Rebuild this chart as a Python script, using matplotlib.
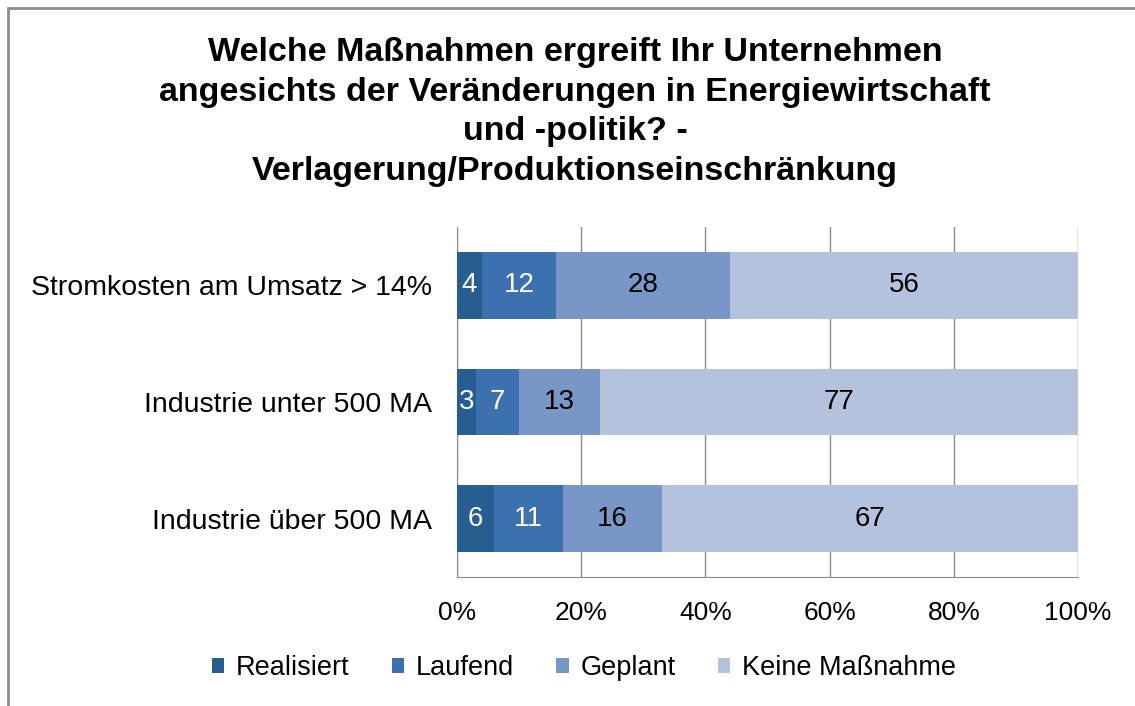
import matplotlib.pyplot as plt
from matplotlib.patches import Rectangle
from matplotlib.ticker import PercentFormatter

plt.rcParams['font.family'] = ['Liberation Sans', 'DejaVu Sans']

## data ##
categories = ['Stromkosten am Umsatz > 14%', 'Industrie unter 500 MA', 'Industrie über 500 MA']
series = ['Realisiert', 'Laufend', 'Geplant', 'Keine Maßnahme']
realisiert = [4, 3, 6]
laufend = [12, 7, 11]
geplant = [28, 13, 16]
keine = [56, 77, 67]
colors = ['#285d92', '#3c70ae', '#7896c6', '#b4c2dd']
text_colors = ['white', 'white', 'black', 'black']

title = ('Welche Maßnahmen ergreift Ihr Unternehmen\n'
         'angesichts der Veränderungen in Energiewirtschaft\n'
         'und -politik? -\n'
         'Verlagerung/Produktionseinschränkung')

## figure ##
fig = plt.figure(figsize=(11.35, 7.06), dpi=100)
ax = fig.add_axes([457/1135, 1 - 577/706, (1078-457)/1135, (577-227)/706])

# outer frame (cut off on right / bottom)
fig.patches.append(Rectangle((8/1135, -0.1), 1.2, 1 - 8/706 + 0.1, transform=fig.transFigure,
                             fill=False, edgecolor='#8c8c8c', linewidth=2))

ypos = list(range(len(categories)))
left = [0] * len(categories)
for name, vals, col, tcol in zip(series, [realisiert, laufend, geplant, keine], colors, text_colors):
    bars = ax.barh(ypos, vals, left=left, height=0.57, color=col, label=name, zorder=3)
    for b, v in zip(bars, vals):
        ax.text(b.get_x() + b.get_width()/2, b.get_y() + b.get_height()/2, str(v),
                ha='center', va='center', color=tcol, fontsize=20, zorder=4)
    left = [l + v for l, v in zip(left, vals)]

ax.set_xlim(0, 100)
ax.set_ylim(2.5, -0.5)
ax.set_yticks(ypos)
ax.set_yticklabels(categories, fontsize=20.5)
ax.set_xticks([0, 20, 40, 60, 80, 100])
ax.xaxis.set_major_formatter(PercentFormatter(decimals=0))
ax.tick_params(axis='x', labelsize=19, length=0, pad=17)
ax.tick_params(axis='y', length=0, pad=18)
ax.grid(axis='x', color='#8c8c8c', linewidth=1, zorder=0)
for s in ['top', 'right']:
    ax.spines[s].set_visible(False)
ax.spines['left'].set_color('#8c8c8c')
ax.spines['bottom'].set_color('#8c8c8c')

fig.text(575/1135, 1 - 112/706, title, ha='center', va='center', fontsize=24.5,
         fontweight='bold', linespacing=1.36)

fig.legend(loc='center', bbox_to_anchor=(584/1135, 1 - 668/706), ncol=4, frameon=False,
           fontsize=19.5, handlelength=0.45, handleheight=0.45, handletextpad=0.45, columnspacing=1.55)

fig.savefig('out.png', dpi=100)
